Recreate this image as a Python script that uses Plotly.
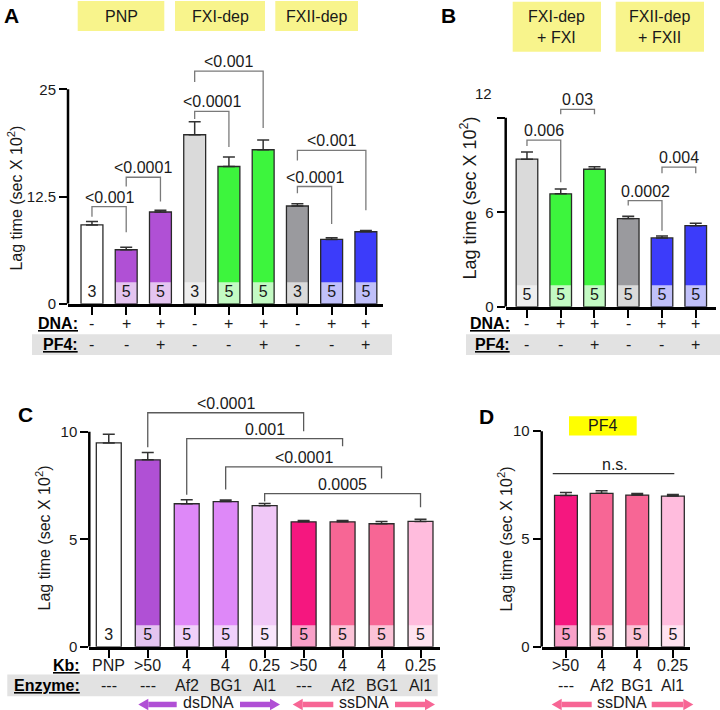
import plotly.graph_objects as go

W, H = 720, 710          # reference picture size (coordinates below are in its pixels)
FIG_H = 720              # page height; the capture is fitted back to 710
FONT = "Liberation Sans, Arial, Helvetica, sans-serif"
INK = "#1a1a1a"

# ======================= DATA =======================
# Panel A
a_headers = ["PNP", "FXI-dep", "FXII-dep"]
a_dna = ["-", "+", "+", "-", "+", "+", "-", "+", "+"]
a_pf4 = ["-", "-", "+", "-", "-", "+", "-", "-", "+"]
a_lag = [9.2, 6.3, 10.7, 19.7, 16.0, 17.95, 11.4, 7.5, 8.4]
a_sem = [0.4, 0.3, 0.2, 1.5, 1.1, 1.15, 0.25, 0.2, 0.15]
a_n = [3, 5, 5, 3, 5, 5, 3, 5, 5]
a_compare = [(0, 1), (1, 2), (3, 4), (3, 5), (6, 7), (6, 8)]
a_p = ["<0.001", "<0.0001", "<0.0001", "<0.001", "<0.0001", "<0.001"]
a_yticks = [0, 12.5, 25]
a_yticktext = ["0", "12.5", "25"]

# Panel B
b_headers = ["FXI-dep<br>+ FXI", "FXII-dep<br>+ FXII"]
b_dna = ["-", "+", "+", "-", "+", "+"]
b_pf4 = ["-", "-", "+", "-", "-", "+"]
b_lag = [9.37, 7.17, 8.73, 5.6, 4.37, 5.15]
b_sem = [0.45, 0.3, 0.15, 0.15, 0.13, 0.15]
b_n = [5, 5, 5, 5, 5, 5]
b_compare = [(0, 1), (1, 2), (3, 4), (4, 5)]
b_p = ["0.006", "0.03", "0.0002", "0.004"]
b_yticks = [0, 6, 12]
b_yticktext = ["0", "6", "12"]

# Panel C
c_kb = ["PNP", ">50", "4", "4", "0.25", ">50", "4", "4", "0.25"]
c_enzyme = ["---", "---", "Af2", "BG1", "Al1", "---", "Af2", "BG1", "Al1"]
c_lag = [9.48, 8.69, 6.65, 6.75, 6.56, 5.81, 5.81, 5.72, 5.83]
c_sem = [0.4, 0.34, 0.19, 0.07, 0.1, 0.06, 0.06, 0.11, 0.1]
c_n = [3, 5, 5, 5, 5, 5, 5, 5, 5]
c_compare = [(1, 5), (2, 6), (3, 7), (4, 8)]
c_p = ["<0.0001", "0.001", "<0.0001", "0.0005"]
c_yticks = [0, 5, 10]
c_yticktext = ["0", "5", "10"]

# Panel D
d_header = "PF4"
d_kb = [">50", "4", "4", "0.25"]
d_enzyme = ["---", "Af2", "BG1", "Al1"]
d_lag = [7.02, 7.12, 7.04, 6.99]
d_sem = [0.14, 0.12, 0.07, 0.08]
d_n = [5, 5, 5, 5]
d_p = "n.s."
d_yticks = [0, 5, 10]
d_yticktext = ["0", "5", "10"]

# ======================= STYLE =======================
PURPLE, PURPLE_L = "#B050D5", "#E4C4F0"
GREEN, GREEN_L = "#3DF53D", "#C3FAC3"
BLUE, BLUE_L = "#3C3CFA", "#C0C0FA"
LGREY, LGREY_L = "#DADADA", "#EEEEEE"
DGREY, DGREY_L = "#9A9A9E", "#DADADA"
a_fill = ["#FFFFFF", PURPLE, PURPLE, LGREY, GREEN, GREEN, DGREY, BLUE, BLUE]
a_band = ["#FFFFFF", PURPLE_L, PURPLE_L, LGREY_L, GREEN_L, GREEN_L, DGREY_L, BLUE_L, BLUE_L]
b_fill = [LGREY, GREEN, GREEN, DGREY, BLUE, BLUE]
b_band = [LGREY_L, GREEN_L, GREEN_L, DGREY_L, BLUE_L, BLUE_L]
c_fill = ["#FFFFFF", PURPLE, "#DE88F8", "#DE88F8", "#F0C8F7", "#F5177F", "#F76695", "#F76695", "#FFBCDD"]
c_band = ["#FFFFFF", PURPLE_L, "#F0D0FA", "#F0D0FA", "#F9E6FC", "#F9A0C8", "#FBC3D7", "#FBC3D7", "#FFE3F0"]
d_fill = ["#F5177F", "#F76695", "#F76695", "#FFBCDD"]
d_band = ["#F9A0C8", "#FBC3D7", "#FBC3D7", "#FFE3F0"]

# panel geometry (pixels): x = (left, right), y = (zero line, top of plotting domain)
GEOM = {
    1: dict(px=(68, 383), py=(303, 46.2), xr=(-0.7, 8.5), yr=(0, 30), ytop=25),
    2: dict(px=(505.7, 716), py=(306, 85.9), xr=(-0.63, 5.6), yr=(0, 14), ytop=12),
    3: dict(px=(89.3, 440), py=(645, 398.3), xr=(-0.5, 8.5), yr=(0, 11.5), ytop=10),
    4: dict(px=(541.7, 690), py=(645, 419.25), xr=(-0.68, 3.48), yr=(0, 10.5), ytop=10),
}
# bracket geometry (data units): (horizontal, left leg end, right leg end)
a_br = [(11.33, 10.16, 8.33), (14.75, 13.67, 11.92), (22.43, 21.53, 18.26),
        (27.1, 25.85, 20.48), (13.67, 12.89, 9.31), (17.87, 16.7, 10.9)]
b_br = [(10.58, 10.2, 7.91), (12.53, 12.21, 12.21), (6.74, 6.43, 4.83), (8.86, 8.48, 8.48)]
c_br = [(10.88, 9.28, 10.02), (9.68, 7.07, 9.32), (8.36, 7.31, 7.82), (7.12, 6.76, 6.49)]

BAR_W = 0.64
SEG_PX = 21.5
ARROW_Y = 702.5
ARROW_TXT_Y = 700.3


def PX(p):
    return p / W


def PY(p):
    return 1 - p / H


fig = go.Figure()
shapes = []
annos = []


def txt(x, y, text, xref="paper", yref="paper", size=16, xanchor="center",
        yanchor="middle", color=INK, **kw):
    d = dict(x=x, y=y, xref=xref, yref=yref, text=text, showarrow=False,
             xanchor=xanchor, yanchor=yanchor,
             font=dict(size=size, color=color, family=FONT))
    d.update(kw)
    annos.append(d)


def ax_names(i):
    return ("x", "y") if i == 1 else (f"x{i}", f"y{i}")


def add_panel(i, values, errs, fills, bands, ns, yticks, yticktext):
    g = GEOM[i]
    xa, ya = ax_names(i)
    xs = list(range(len(values)))
    seg = SEG_PX * (g["yr"][1] - g["yr"][0]) / (g["py"][0] - g["py"][1])
    fig.add_trace(go.Bar(x=xs, y=values, width=BAR_W, xaxis=xa, yaxis=ya,
                         marker=dict(color=fills, line=dict(width=0)),
                         error_y=dict(type="data", symmetric=False, array=errs,
                                      arrayminus=[0] * len(values), color="#333",
                                      thickness=1.5, width=6)))
    fig.add_trace(go.Bar(x=xs, y=[seg] * len(values), width=BAR_W, xaxis=xa, yaxis=ya,
                         marker=dict(color=bands, line=dict(width=0))))
    fig.add_trace(go.Bar(x=xs, y=values, width=BAR_W, xaxis=xa, yaxis=ya,
                         marker=dict(color="rgba(0,0,0,0)", line=dict(color="#2a2a2a", width=1.3))))
    fig.add_trace(go.Scatter(x=xs, y=[seg / 2] * len(values), mode="text",
                             text=[str(n) for n in ns], xaxis=xa, yaxis=ya,
                             textfont=dict(size=16, color=INK, family=FONT),
                             cliponaxis=False, hoverinfo="skip"))
    key = "" if i == 1 else str(i)
    fig.layout["xaxis" + key] = dict(
        domain=[PX(g["px"][0]), PX(g["px"][1])], range=list(g["xr"]), anchor=ya,
        showline=True, linewidth=2.5, linecolor="black", ticks="outside",
        tickvals=xs, ticklen=8, tickwidth=2, tickcolor="black",
        showticklabels=False, showgrid=False, zeroline=False, fixedrange=True)
    fig.layout["yaxis" + key] = dict(
        domain=[PY(g["py"][0]), PY(g["py"][1])], range=list(g["yr"]), anchor=xa,
        showline=False, ticks="outside", tickvals=yticks, ticktext=yticktext,
        ticklen=8, tickwidth=2, tickcolor="black",
        tickfont=dict(size=15, color=INK, family=FONT),
        showgrid=False, zeroline=False, fixedrange=True)
    shapes.append(dict(type="line", xref="paper", yref=ya, x0=PX(g["px"][0]), x1=PX(g["px"][0]),
                       y0=0, y1=g["ytop"], line=dict(color="black", width=2.5)))


def add_brackets(i, pairs, labels, geo, color):
    xa, ya = ax_names(i)
    for (l, r), lab, (h, lb, rb) in zip(pairs, labels, geo):
        shapes.append(dict(type="path", xref=xa, yref=ya,
                           path=f"M {l},{lb} L {l},{h} L {r},{h} L {r},{rb}",
                           line=dict(color=color, width=1.3)))
        txt((l + r) / 2, h, lab, xref=xa, yref=ya, yanchor="bottom", yshift=-1)


def row(i, labels, py, size=16):
    xa, _ = ax_names(i)
    for k, s in enumerate(labels):
        txt(k, PY(py), s, xref=xa, size=size)


def label(text, xr_px, py, size=16):
    txt(PX(xr_px), PY(py), text, size=size, xanchor="right", color="black")


def box(x0, x1, y0, y1, color, text, size=16):
    shapes.append(dict(type="rect", xref="paper", yref="paper", x0=PX(x0), x1=PX(x1),
                       y0=PY(y1), y1=PY(y0), fillcolor=color, line=dict(width=0), layer="below"))
    txt(PX((x0 + x1) / 2), PY((y0 + y1) / 2), text, size=size)


def band(x0, x1, y0, y1):
    shapes.append(dict(type="rect", xref="paper", yref="paper", x0=PX(x0), x1=PX(x1),
                       y0=PY(y1), y1=PY(y0), fillcolor="#E2E2E2", line=dict(width=0), layer="below"))


def arrow(x_tail, x_tip, py, color):
    d = 1 if x_tip > x_tail else -1
    base = x_tip - d * 10
    shapes.append(dict(type="line", xref="paper", yref="paper", x0=PX(x_tail), x1=PX(base),
                       y0=PY(py), y1=PY(py), line=dict(color=color, width=5.5)))
    shapes.append(dict(type="path", xref="paper", yref="paper",
                       path=f"M {PX(x_tip)},{PY(py)} L {PX(base)},{PY(py - 5.8)} L {PX(base)},{PY(py + 5.8)} Z",
                       fillcolor=color, line=dict(width=0)))


def ytitle(xc, yc, size=16):
    txt(PX(xc), PY(yc), "Lag time (sec X 10<sup>2</sup>)", size=size, textangle=-90)


def letter(t, xc, yc):
    txt(PX(xc), PY(yc), f"<b>{t}</b>", size=21, color="black")


# ---- Panel A ----
add_panel(1, a_lag, a_sem, a_fill, a_band, a_n, a_yticks, a_yticktext)
add_brackets(1, a_compare, a_p, a_br, "#7a7a7a")
for (x0, x1), t in zip([(77.7, 164.3), (175, 265), (275.3, 358)], a_headers):
    box(x0, x1, 1, 31, "#F8F48C", t)
band(32, 392, 333.3, 354)
label("<b><u>DNA:</u></b>", 79.5, 323)
label("<b><u>PF4:</u></b>", 79.5, 343.5)
row(1, a_dna, 323)
row(1, a_pf4, 343.5)
ytitle(15, 198, 16)
letter("A", 11, 15)

# ---- Panel B ----
add_panel(2, b_lag, b_sem, b_fill, b_band, b_n, b_yticks, ["0", "6", " "])
add_brackets(2, b_compare, b_p, b_br, "#7a7a7a")
txt(PX(494), PY(93), b_yticktext[2], size=15, xanchor="right")
for (x0, x1), t in zip([(512.7, 601), (615.7, 704)], b_headers):
    box(x0, x1, 1.7, 51.7, "#F8F48C", t)
band(466, 720, 333.3, 354)
label("<b><u>DNA:</u></b>", 512, 323)
label("<b><u>PF4:</u></b>", 512, 343.5)
row(2, b_dna, 323)
row(2, b_pf4, 343.5)
ytitle(469, 198, 18)
letter("B", 448, 15)

# ---- Panel C ----
add_panel(3, c_lag, c_sem, c_fill, c_band, c_n, c_yticks, c_yticktext)
add_brackets(3, c_compare, c_p, c_br, "#5a5a5a")
band(7.3, 437.7, 672.7, 694.3)
label("<b><u>Kb:</u></b>", 81.5, 664)
label("<b><u>Enzyme:</u></b>", 81.5, 683.5)
row(3, c_kb, 664)
row(3, c_enzyme, 683.5)
arrow(176.7, 138.3, ARROW_Y, PURPLE)
arrow(240, 280, ARROW_Y, PURPLE)
txt(PX(208.3), PY(ARROW_TXT_Y), "dsDNA", borderpad=0)
arrow(333.3, 292.7, ARROW_Y, "#F76695")
arrow(395, 435, ARROW_Y, "#F76695")
txt(PX(364), PY(ARROW_TXT_Y), "ssDNA", borderpad=0)
ytitle(43, 537, 16)
letter("C", 26, 413)

# ---- Panel D ----
add_panel(4, d_lag, d_sem, d_fill, d_band, d_n, d_yticks, d_yticktext)
shapes.append(dict(type="line", xref="x4", yref="y4", x0=-0.37, x1=3.04, y0=8.03, y1=8.03,
                   line=dict(color="#333", width=1.3)))
txt(1.37, 8.03, d_p, xref="x4", yref="y4", yanchor="bottom", yshift=-1)
box(569, 636.7, 415, 434.3, "#FFFF00", d_header)
row(4, d_kb, 664)
row(4, d_enzyme, 683.5)
arrow(591.7, 551.7, ARROW_Y, "#F76695")
arrow(651.7, 693.3, ARROW_Y, "#F76695")
txt(PX(621.7), PY(ARROW_TXT_Y), "ssDNA", borderpad=0)
ytitle(505, 537, 16)
letter("D", 486, 415)

fig.update_layout(
    width=W, height=FIG_H, autosize=False,
    margin=dict(l=0, r=0, t=0, b=0),
    paper_bgcolor="white", plot_bgcolor="rgba(0,0,0,0)",
    barmode="overlay", showlegend=False,
    font=dict(family=FONT, color=INK),
    shapes=shapes, annotations=annos,
)
fig.write_html("out.html", config={"displayModeBar": False},
               post_script="document.body.style.margin='0';document.body.style.overflow='hidden';")
